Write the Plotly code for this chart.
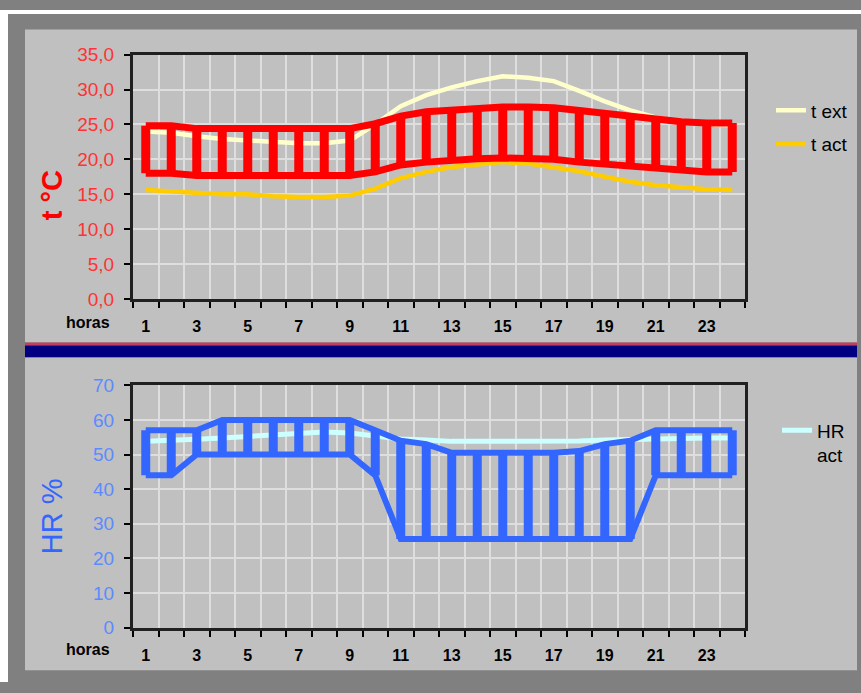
import plotly.graph_objects as go

# ---------------- data ----------------
hours = list(range(1, 25))
x_tick_vals = list(range(1, 24, 2))
x_tick_text = [str(h) for h in x_tick_vals]
x_bounds = [h + 0.5 for h in range(0, 25)]

t_ext = [24.0, 23.8, 23.3, 22.9, 22.7, 22.5, 22.3, 22.3, 22.7, 25.0, 27.6, 29.2,
         30.3, 31.2, 31.9, 31.7, 31.2, 29.8, 28.3, 27.0, 26.0, 25.4, 25.0, 24.9]
t_act = [15.6, 15.4, 15.1, 15.0, 15.0, 14.7, 14.6, 14.6, 14.8, 15.8, 17.3, 18.2,
         18.9, 19.3, 19.6, 19.4, 18.9, 18.3, 17.5, 16.8, 16.3, 16.0, 15.7, 15.6]
t_upper = [24.8, 24.8, 24.4, 24.4, 24.4, 24.4, 24.4, 24.4, 24.4, 25.1, 26.2, 26.8,
           27.1, 27.4, 27.5, 27.5, 27.4, 27.0, 26.6, 26.1, 25.7, 25.4, 25.2, 25.2]
t_lower = [18.0, 18.0, 17.7, 17.7, 17.7, 17.7, 17.7, 17.7, 17.7, 18.2, 19.2, 19.6,
           19.9, 20.1, 20.2, 20.1, 20.0, 19.6, 19.3, 18.9, 18.6, 18.3, 18.2, 18.2]

hr_act = [53.8, 54.0, 54.4, 54.8, 55.3, 55.6, 56.0, 56.5, 56.2, 55.3, 54.5, 54.2,
          53.8, 53.8, 53.8, 53.8, 53.8, 53.9, 54.2, 54.4, 54.6, 54.7, 54.8, 54.8]
hr_upper = [57, 57, 57, 60, 60, 60, 60, 60, 60, 57, 54, 53,
            50.5, 50.5, 50.5, 50.5, 50.5, 51, 53, 54, 57, 57, 57, 57]
hr_lower = [44, 44, 50, 50, 50, 50, 50, 50, 50, 44, 25.6, 25.6,
            25.6, 25.6, 25.6, 25.6, 25.6, 25.6, 25.6, 25.6, 44, 44, 44, 44]

W, H = 861, 693
FONT = "Liberation Sans, Arial, sans-serif"


def px(x):
    return x / W


def py(y):
    return 1 - y / H


def hl_segments(x, lo, hi):
    xs, ys = [], []
    for a, b, c in zip(x, lo, hi):
        xs += [a, a, None]
        ys += [b, c, None]
    return xs, ys


fig = go.Figure()

# ---- top chart ----
fig.add_trace(go.Scatter(x=hours, y=t_ext, mode="lines", name="t ext",
                         line=dict(color="#ffffcc", width=4.5),
                         xaxis="x", yaxis="y", legend="legend", legendgroup="a"))
fig.add_trace(go.Scatter(x=hours, y=t_act, mode="lines", name="t act",
                         line=dict(color="#ffcc00", width=4.5),
                         xaxis="x", yaxis="y", legend="legend", legendgroup="b"))
bx, by = hl_segments(hours, t_lower, t_upper)
fig.add_trace(go.Scatter(x=bx, y=by, mode="lines", showlegend=False,
                         line=dict(color="#ff0000", width=9), xaxis="x", yaxis="y"))
for s in (t_upper, t_lower):
    fig.add_trace(go.Scatter(x=hours, y=s, mode="lines", showlegend=False,
                             line=dict(color="#ff0000", width=7), xaxis="x", yaxis="y"))

# ---- bottom chart ----
fig.add_trace(go.Scatter(x=hours, y=hr_act, mode="lines", name="HR<br>act",
                         line=dict(color="#ccffff", width=5),
                         xaxis="x2", yaxis="y2", legend="legend2"))
bx, by = hl_segments(hours, hr_lower, hr_upper)
fig.add_trace(go.Scatter(x=bx, y=by, mode="lines", showlegend=False,
                         line=dict(color="#3366ff", width=9), xaxis="x2", yaxis="y2"))
for s in (hr_upper, hr_lower):
    fig.add_trace(go.Scatter(x=hours, y=s, mode="lines", showlegend=False,
                             line=dict(color="#3366ff", width=6), xaxis="x2", yaxis="y2"))

GRID = "#dedede"
AXLINE = "#202020"


def xaxis_cfg(anchor):
    return dict(domain=[px(133), px(745)], range=[0.5, 24.5], anchor=anchor,
                tickmode="array", tickvals=x_tick_vals, ticktext=x_tick_text,
                ticks="", showgrid=False, zeroline=False,
                tickfont=dict(family=FONT, size=16, color="black", weight="bold"),
                ticklabelstandoff=11,
                showline=True, mirror=True, linecolor=AXLINE, linewidth=3,
                minor=dict(tickmode="array", tickvals=x_bounds, ticks="outside",
                           ticklen=6, tickwidth=2, tickcolor="black",
                           showgrid=True, gridcolor=GRID, gridwidth=1.5))


fig.update_layout(
    width=W, height=H, margin=dict(l=0, r=0, t=0, b=0),
    paper_bgcolor="#808080", plot_bgcolor="#808080",
    separators=",.",
    font=dict(family=FONT),
    xaxis=xaxis_cfg("y"),
    xaxis2=xaxis_cfg("y2"),
    yaxis=dict(domain=[py(298), py(46)], range=[0, 35], dtick=5, tick0=0,
               tickformat=".1f", ticks="outside", ticklen=6, tickwidth=2,
               tickcolor="black", ticklabelstandoff=6,
               tickfont=dict(family=FONT, size=19, color="#ff3333"),
               showgrid=True, gridcolor=GRID, gridwidth=1.5, zeroline=False,
               showline=True, mirror=True, linecolor=AXLINE, linewidth=3,
               anchor="x"),
    yaxis2=dict(domain=[py(637), py(387)], range=[0, 70], dtick=10, tick0=0,
                ticks="outside", ticklen=6, tickwidth=2, tickcolor="black",
                ticklabelstandoff=6,
                tickfont=dict(family=FONT, size=19, color="#5b8bff"),
                showgrid=True, gridcolor=GRID, gridwidth=1.5, zeroline=False,
                showline=True, mirror=True, linecolor=AXLINE, linewidth=3,
                anchor="x2"),
    legend=dict(x=px(771), y=py(84), xanchor="left", yanchor="top",
                bgcolor="rgba(0,0,0,0)", font=dict(family=FONT, size=19, color="black"),
                tracegroupgap=6, traceorder="grouped", itemwidth=30),
    legend2=dict(x=px(777), y=py(414), xanchor="left", yanchor="top",
                 bgcolor="rgba(0,0,0,0)", font=dict(family=FONT, size=19, color="black"),
                 valign="top", itemwidth=30),
    shapes=[
        dict(type="rect", xref="paper", yref="paper", x0=0, x1=1, y0=py(4), y1=1,
             fillcolor="white", line_width=0, layer="below"),
        dict(type="rect", xref="paper", yref="paper", x0=0, x1=px(8), y0=0, y1=1,
             fillcolor="white", line_width=0, layer="below"),
        dict(type="rect", xref="paper", yref="paper", x0=px(25), x1=px(857),
             y0=py(343), y1=py(20), fillcolor="#c0c0c0", line_width=0, layer="below"),
        dict(type="rect", xref="paper", yref="paper", x0=px(25), x1=px(857),
             y0=py(681), y1=py(358), fillcolor="#c0c0c0", line_width=0, layer="below"),
        dict(type="rect", xref="paper", yref="paper", x0=px(25), x1=px(857),
             y0=py(346), y1=py(343), fillcolor="#c04060", line_width=0, layer="below"),
        dict(type="rect", xref="paper", yref="paper", x0=px(25), x1=px(857),
             y0=py(358), y1=py(346), fillcolor="#000080", line_width=0, layer="below"),
    ],
    annotations=[
        dict(text="<b>t °C</b>", xref="paper", yref="paper", x=px(52), y=py(191),
             xanchor="center", yanchor="middle",
             textangle=-90, showarrow=False,
             font=dict(family=FONT, size=29, color="#ff0000")),
        dict(text="HR %", xref="paper", yref="paper", x=px(52), y=py(522),
             xanchor="center", yanchor="middle",
             textangle=-90, showarrow=False,
             font=dict(family=FONT, size=29, color="#3366ff")),
        dict(text="<b>horas</b>", xref="paper", yref="paper", x=px(88), y=py(322),
             xanchor="center", yanchor="middle",
             showarrow=False, font=dict(family=FONT, size=16, color="black")),
        dict(text="<b>horas</b>", xref="paper", yref="paper", x=px(88), y=py(659),
             xanchor="center", yanchor="middle",
             showarrow=False, font=dict(family=FONT, size=16, color="black")),
    ],
)

fig.write_html("out.html", config={"displayModeBar": False},
               post_script="document.body.style.margin='0';document.body.style.padding='0';")
